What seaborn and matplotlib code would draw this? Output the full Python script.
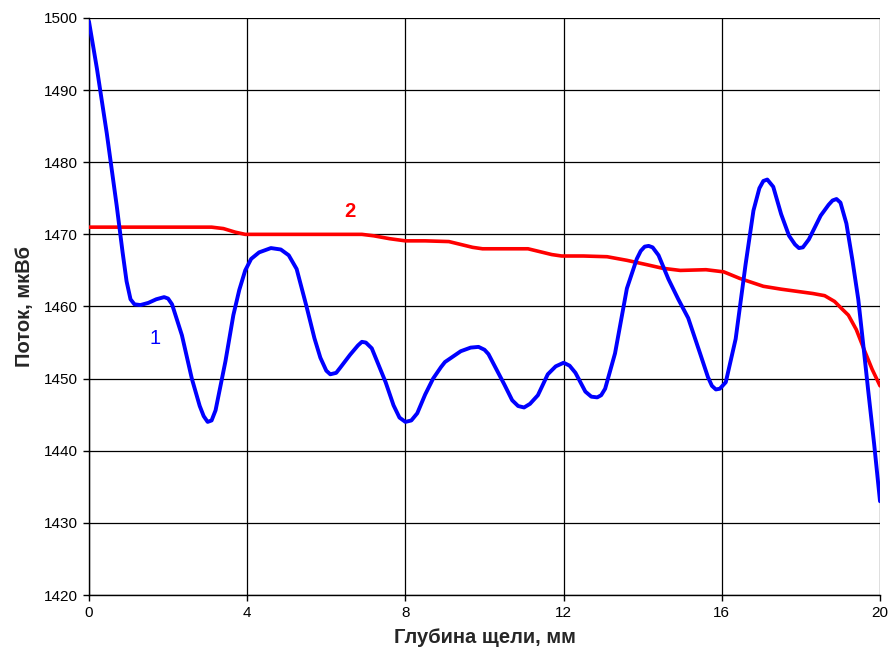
import matplotlib
matplotlib.use("Agg")
import matplotlib.pyplot as plt
import seaborn as sns
import pandas as pd

# Curve 1 (blue)
x1 = [0.0, 0.2, 0.45, 0.7, 0.85, 0.95, 1.05, 1.15, 1.3, 1.5, 1.7, 1.9, 2.0, 2.1, 2.35, 2.6, 2.8, 2.9,
      3.0, 3.1, 3.2, 3.45, 3.65, 3.8, 3.95, 4.1, 4.3, 4.6, 4.85, 5.05, 5.25, 5.5, 5.7, 5.85, 6.0, 6.1,
      6.25, 6.35, 6.6, 6.8, 6.9, 7.0, 7.15, 7.5, 7.7, 7.85, 8.0, 8.15, 8.3, 8.5, 8.7, 8.9, 9.0, 9.4,
      9.65, 9.85, 10.0, 10.1, 10.5, 10.7, 10.85, 11.0, 11.15, 11.35, 11.6, 11.8, 12.0, 12.15, 12.3,
      12.55, 12.7, 12.85, 12.95, 13.05, 13.3, 13.6, 13.85, 13.95, 14.05, 14.15, 14.25, 14.4, 14.65,
      14.9, 15.15, 15.45, 15.65, 15.75, 15.85, 15.95, 16.1, 16.35, 16.6, 16.8, 16.95, 17.05, 17.15,
      17.3, 17.5, 17.7, 17.85, 17.95, 18.05, 18.2, 18.5, 18.7, 18.8, 18.9, 19.0, 19.15, 19.3, 19.45,
      19.6, 19.7, 19.85, 20.0]
y1 = [1499.5, 1493.0, 1484.0, 1474.0, 1467.5, 1463.5, 1461.0, 1460.3, 1460.2, 1460.5, 1461.0, 1461.3,
      1461.1, 1460.3, 1456.0, 1450.0, 1446.2, 1444.8, 1444.0, 1444.2, 1445.6, 1452.4, 1458.8, 1462.3,
      1465.0, 1466.6, 1467.5, 1468.1, 1467.9, 1467.1, 1465.2, 1460.0, 1455.6, 1452.9, 1451.1, 1450.6,
      1450.8, 1451.5, 1453.3, 1454.6, 1455.1, 1455.0, 1454.2, 1449.5, 1446.3, 1444.6, 1444.0, 1444.2,
      1445.2, 1447.8, 1450.0, 1451.6, 1452.3, 1453.8, 1454.3, 1454.4, 1454.0, 1453.4, 1449.2, 1447.0,
      1446.2, 1446.0, 1446.5, 1447.7, 1450.6, 1451.7, 1452.2, 1451.8, 1450.8, 1448.2, 1447.5, 1447.4,
      1447.7, 1448.6, 1453.5, 1462.5, 1466.6, 1467.7, 1468.3, 1468.4, 1468.2, 1467.1, 1463.8, 1461.0,
      1458.4, 1453.5, 1450.2, 1449.0, 1448.5, 1448.6, 1449.5, 1455.5, 1465.8, 1473.3, 1476.4, 1477.4,
      1477.6, 1476.6, 1472.8, 1469.8, 1468.6, 1468.1, 1468.2, 1469.3, 1472.6, 1474.1, 1474.7, 1474.9,
      1474.4, 1471.5, 1466.5, 1461.0, 1453.5, 1448.4, 1441.0, 1433.0]

# Curve 2 (red)
x2 = [0.0, 1.0, 2.0, 3.1, 3.4, 3.7, 3.95, 5.0, 6.0, 6.9, 7.2, 7.6, 8.0, 8.5, 9.1, 9.4, 9.7, 9.95,
      10.5, 11.1, 11.4, 11.7, 11.95, 12.5, 13.1, 13.6, 14.1, 14.5, 14.95, 15.6, 16.05, 16.45, 17.05,
      17.5, 17.9, 18.3, 18.6, 18.85, 19.05, 19.2, 19.4, 19.6, 19.8, 20.0]
y2 = [1471.0, 1471.0, 1471.0, 1471.0, 1470.8, 1470.3, 1470.0, 1470.0, 1470.0, 1470.0, 1469.8, 1469.4,
      1469.1, 1469.1, 1469.0, 1468.6, 1468.2, 1468.0, 1468.0, 1468.0, 1467.6, 1467.2, 1467.0, 1467.0,
      1466.9, 1466.4, 1465.8, 1465.3, 1465.0, 1465.1, 1464.8, 1463.9, 1462.8, 1462.4, 1462.1, 1461.8,
      1461.5, 1460.7, 1459.6, 1458.8, 1456.8, 1454.0, 1451.3, 1449.0]

x_ticks = [0, 4, 8, 12, 16, 20]
y_ticks = [1420, 1430, 1440, 1450, 1460, 1470, 1480, 1490, 1500]
x_label = "Глубина щели, мм"
y_label = "Поток, мкВб"
curve_labels = ["1", "2"]

sns.set_theme(style="white")
plt.rcParams['font.family'] = ['Liberation Sans', 'DejaVu Sans']

fig = plt.figure(figsize=(8.89, 6.51), dpi=100)
ax = fig.add_axes([0.1001, 0.086, 0.8898, 0.8864])

df1 = pd.DataFrame({"x": x1, "y": y1})
df2 = pd.DataFrame({"x": x2, "y": y2})
sns.lineplot(data=df2, x="x", y="y", ax=ax, color="#ff0000", linewidth=2.6, zorder=3)
sns.lineplot(data=df1, x="x", y="y", ax=ax, color="#0000ff", linewidth=2.8, zorder=4)
for ln in ax.get_lines():
    ln.set_solid_joinstyle("round")
    ln.set_solid_capstyle("round")

ax.set_xlim(0, 20)
ax.set_ylim(1420, 1500)
ax.set_xticks(x_ticks)
ax.set_yticks(y_ticks)
ax.set_xticklabels([str(v) for v in x_ticks], fontsize=11)
ax.set_yticklabels([str(v) for v in y_ticks], fontsize=11)
ax.grid(True, color="black", linewidth=0.9)
ax.set_axisbelow(True)
for s in ["left", "bottom"]:
    ax.spines[s].set_color("black")
    ax.spines[s].set_linewidth(1.0)
for s in ["top", "right"]:
    ax.spines[s].set_visible(False)
ax.tick_params(axis="both", direction="out", length=4, width=1, color="black",
               left=True, bottom=True, labelcolor="black", pad=4)

ax.set_xlabel(x_label, fontsize=14.5, fontweight="bold", labelpad=6)
ax.set_ylabel(y_label, fontsize=14.5, fontweight="bold", labelpad=7)

ax.text(1.67, 1455.6, curve_labels[0], color="#0000ff", fontsize=14.5, ha="center", va="center")
ax.text(6.6, 1473.1, curve_labels[1], color="#ff0000", fontsize=14.5, fontweight="bold",
        ha="center", va="center")

fig.savefig("out.png", dpi=100)
